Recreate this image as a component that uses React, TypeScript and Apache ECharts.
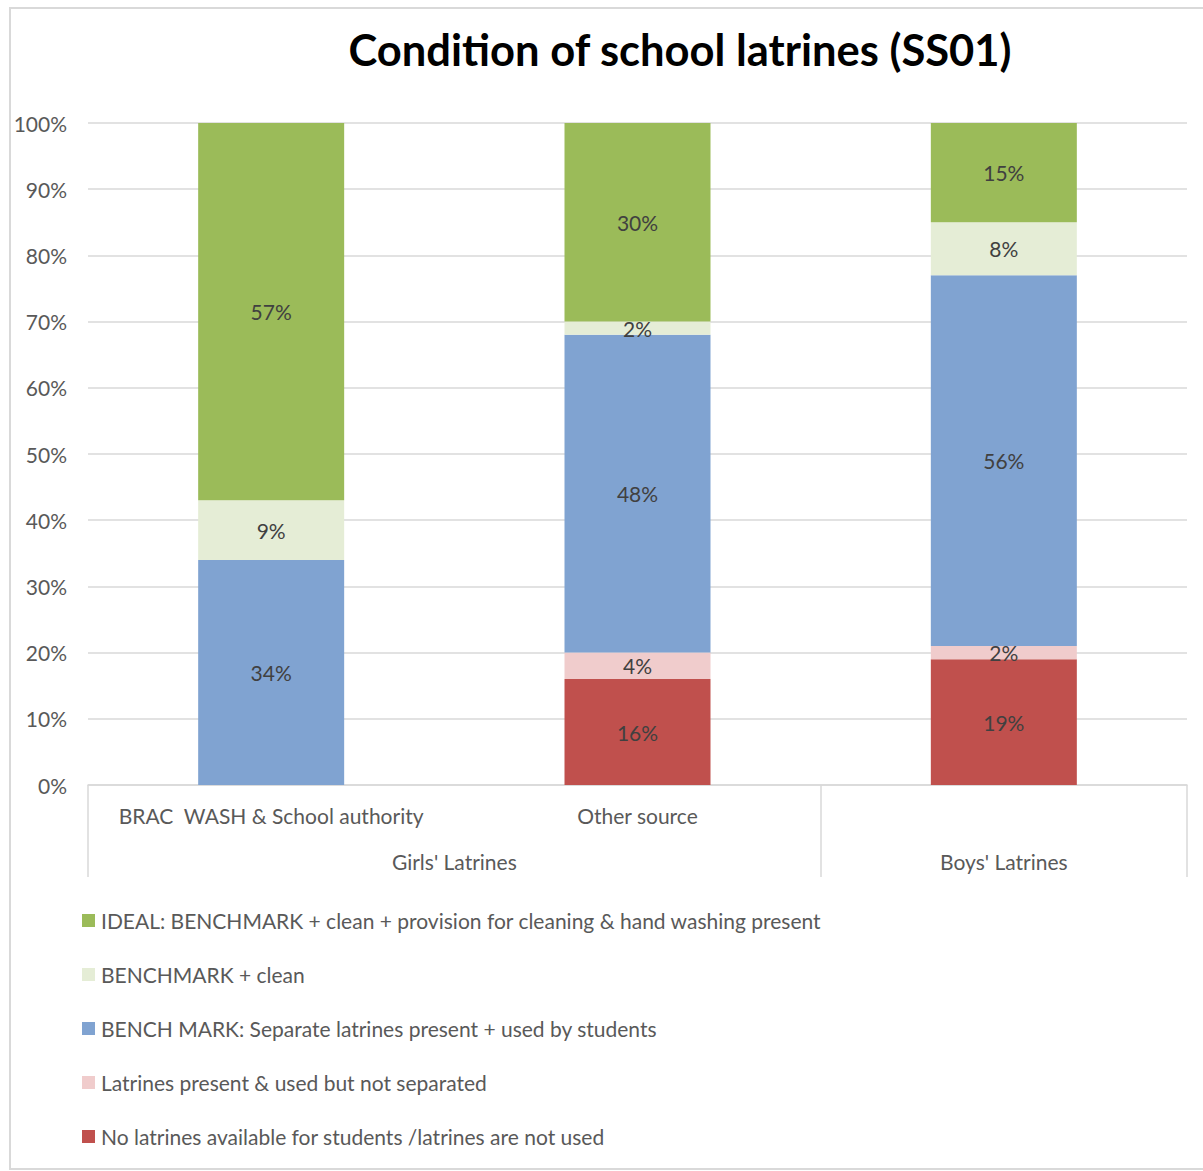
import React, { useEffect, useRef } from "react";
import * as echarts from "echarts";

const categories = ["BRAC  WASH & School authority", "Other source", ""];
const groupLabels = ["Girls' Latrines", "Boys' Latrines"];
const seriesNames = [
  "No latrines available for students /latrines are not used",
  "Latrines present & used but not separated",
  "BENCH MARK: Separate latrines present + used by students",
  "BENCHMARK + clean",
  "IDEAL: BENCHMARK + clean + provision for cleaning & hand washing present",
];
const noLatrines = [0, 16, 19];
const notSeparated = [0, 4, 2];
const benchMark = [34, 48, 56];
const benchClean = [9, 2, 8];
const ideal = [57, 30, 15];
const yTicks = [0, 10, 20, 30, 40, 50, 60, 70, 80, 90, 100];
const colors = ["#C0504D", "#F0CCCC", "#80A3D1", "#E5EDD6", "#9BBB59"];

const FONT = "Lato";
const FS = 21;

export default function App() {
  const ref = useRef<HTMLDivElement>(null);
  useEffect(() => {
    const chart = echarts.init(ref.current!, null, { renderer: "svg" });
    const values = [noLatrines, notSeparated, benchMark, benchClean, ideal];
    chart.setOption({
      animation: false,
      textStyle: { fontFamily: FONT },
      title: {
        text: "Condition of school latrines (SS01)",
        left: 675,
        textAlign: "center",
        top: 22,
        textStyle: { fontFamily: FONT, fontWeight: "bold", fontSize: 43.5, color: "#000" },
      },
      graphic: [
        {
          type: "rect",
          shape: { x: 10, y: 8, width: 1210, height: 1161 },
          style: { fill: "none", stroke: "#d9d9d9", lineWidth: 2 },
          silent: true,
        },
      ],
      legend: {
        orient: "vertical",
        left: 77,
        top: 905,
        height: 260,
        itemWidth: 13,
        itemHeight: 13,
        itemGap: 33,
        icon: "rect",
        data: seriesNames.slice().reverse(),
        textStyle: { fontFamily: FONT, fontSize: FS, color: "#595959", padding: [0, 0, 0, 1] },
      },
      grid: { left: 88, top: 123, width: 1099, height: 662, containLabel: false },
      xAxis: [
        {
          type: "category",
          data: categories,
          axisLine: { show: true, lineStyle: { color: "#d9d9d9", width: 1.5 } },
          axisTick: { show: false },
          axisLabel: { fontFamily: FONT, fontSize: FS, color: "#595959", margin: 20, interval: 0 },
        },
        {
          type: "value",
          position: "bottom",
          min: 0,
          max: 3,
          interval: 0.5,
          axisLine: { show: false },
          splitLine: { show: false },
          axisTick: {
            show: true,
            customValues: [0, 2, 3],
            length: 92,
            lineStyle: { color: "#d9d9d9", width: 1.5 },
          },
          axisLabel: {
            customValues: [1, 2.5],
            formatter: (v: number) => (v === 1 ? groupLabels[0] : v === 2.5 ? groupLabels[1] : ""),
            fontFamily: FONT,
            fontSize: FS,
            color: "#595959",
            margin: 66,
          },
        },
      ],
      yAxis: {
        type: "value",
        min: yTicks[0],
        max: yTicks[yTicks.length - 1],
        interval: 10,
        axisLine: { show: false },
        axisTick: { show: false },
        splitLine: { lineStyle: { color: "#d9d9d9", width: 1.5 } },
        axisLabel: {
          formatter: "{value}%",
          fontFamily: FONT,
          fontSize: FS,
          color: "#595959",
          margin: 21,
        },
      },
      series: seriesNames.map((name, i) => ({
        name,
        type: "bar",
        stack: "total",
        xAxisIndex: 0,
        barWidth: 146,
        data: values[i],
        itemStyle: { color: colors[i] },
        label: {
          show: true,
          position: "inside",
          fontFamily: FONT,
          fontSize: FS,
          color: "#404040",
          formatter: (p: any) => (p.value ? p.value + "%" : ""),
        },
      })),
    });
    return () => chart.dispose();
  }, []);
  return (
    <div
      ref={ref}
      style={{ position: "fixed", left: 0, top: 0, width: 1203, height: 1171, background: "#fff" }}
    />
  );
}
